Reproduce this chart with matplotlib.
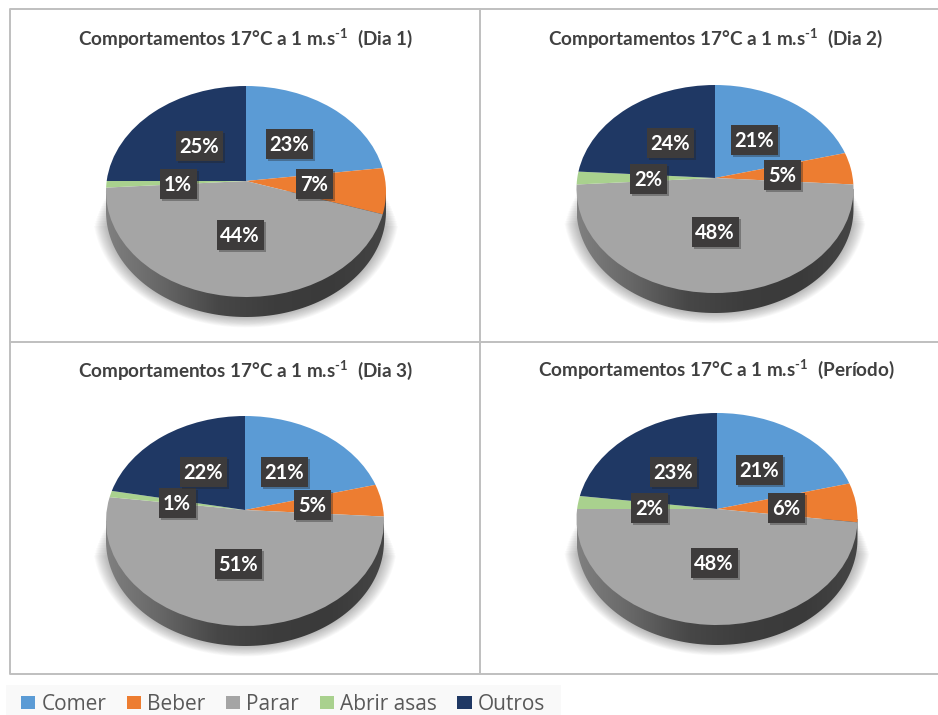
import numpy as np
import matplotlib
matplotlib.use("Agg")
import matplotlib.pyplot as plt
from matplotlib.colors import LinearSegmentedColormap
from matplotlib.patches import Patch, Polygon, Rectangle
from matplotlib.transforms import Transform
import matplotlib.patheffects as pe

plt.rcParams['font.family'] = ['Lato', 'DejaVu Sans']
plt.rcParams['mathtext.fontset'] = 'custom'
plt.rcParams['mathtext.rm'] = 'Lato:bold'
plt.rcParams['mathtext.default'] = 'rm'

# dados
categorias = ['Comer', 'Beber', 'Parar', 'Abrir asas', 'Outros']
dia1 = [23, 7, 44, 1, 25]
dia2 = [21, 5, 48, 2, 24]
dia3 = [21, 5, 51, 1, 22]
periodo = [21, 6, 48, 2, 23]
sufixos = ['(Dia 1)', '(Dia 2)', '(Dia 3)', '(Período)']
cores = ['#5b9bd5', '#ed7d31', '#a5a5a5', '#a9d18e', '#1f3864']

# layout em pixels: apice x, apice y, topo, base, raio x
geometria = [(246, 181, 86, 297, 140),
             (715, 178, 85, 293, 138.5),
             (245, 510, 416, 626, 139),
             (717, 509, 413, 625, 140.5)]
titulo_pos = [(246, 38), (716, 38), (246, 370), (716, 369)]
profundidade = 20
# centro das caixas de rotulo, na ordem das categorias
rotulo_pos = [[(289, 144), (314, 184), (240, 235), (178, 184), (199, 146)],
              [(754, 140), (782, 175), (715, 232), (648, 179), (670, 143)],
              [(284, 472), (312, 505), (238, 564), (177, 503), (203, 472)],
              [(759, 470), (786, 508), (714, 563), (649, 508), (673, 472)]]


class Perspectiva(Transform):
    # leva o circulo unitario da pizza para a elipse em perspectiva
    input_dims = output_dims = 2

    def __init__(self, cx, cy, topo, base, rx):
        super().__init__()
        up, dn = cy - topo, base - cy
        self.c = (dn - up) / (dn + up)
        self.k = up * (1 + self.c)
        ry = (base - topo) / 2
        off = (topo + base) / 2 - cy
        self.m = rx * np.sqrt(1 - (off / ry) ** 2)
        self.cx, self.cy = cx, cy

    def transform_non_affine(self, xy):
        xy = np.asarray(xy, float)
        w = 1 + self.c * xy[:, 1]
        return np.column_stack([self.cx + self.m * xy[:, 0] / w,
                                self.cy - self.k * xy[:, 1] / w])


fig = plt.figure(figsize=(9.38, 7.15), dpi=100)
ax = fig.add_axes([0, 0, 1, 1])

parede = LinearSegmentedColormap.from_list(
    'parede', ['#808080', '#666666', '#474747', '#3d3d3d', '#3a3a3a', '#454545'])

for dados, suf, geo, tpos, rpos in zip([dia1, dia2, dia3, periodo], sufixos,
                                       geometria, titulo_pos, rotulo_pos):
    cx, cy, topo, base, rx = geo
    ry = (base - topo) / 2
    ey = (topo + base) / 2

    # sombra: camadas de elipses, a mais larga primeiro
    t = np.linspace(0, 2 * np.pi, 200)
    for e in np.arange(13, 0, -1):
        yy = ey + profundidade + (ry + e * 0.8) * np.sin(t)
        xx = cx + (rx + e) * np.cos(t)
        yy = np.maximum(yy, ey + 2 + e * 2.5)
        ax.fill(xx, yy, color='#555555', alpha=0.035, lw=0, zorder=1)

    # parede lateral
    t = np.linspace(0, np.pi, 120)
    contorno = np.column_stack([cx + rx * np.cos(t),
                                ey + profundidade + ry * np.sin(t)])
    contorno = np.vstack([contorno, [cx - rx, ey], [cx + rx, ey]])
    lado = Polygon(contorno, closed=True, facecolor='none', edgecolor='none')
    ax.add_patch(lado)
    grad = ax.imshow(np.linspace(0, 1, 256)[None, :], cmap=parede,
                     extent=(cx - rx, cx + rx, base + profundidade, ey),
                     aspect='auto', zorder=2)
    grad.set_clip_path(lado)

    # fatias
    fatias, _ = ax.pie(dados, colors=cores, startangle=90, counterclock=False,
                       wedgeprops={'linewidth': 0})
    persp = Perspectiva(cx, cy, topo, base, rx)
    for f in fatias:
        f.set_transform(persp + ax.transData)
        f.set_zorder(3)

    ax.text(tpos[0], tpos[1],
            'Comportamentos 17°C a 1 m.s$^{\\text{-}1}$  ' + suf,
            ha='center', va='center', fontsize=13.6, fontweight='bold',
            color='#404040', zorder=6)

    # rotulos
    for v, (x, y) in zip(dados, rpos):
        larg = 47 if v >= 10 else 37
        caixa = Rectangle((x - larg / 2, y - 15), larg, 30, facecolor='#3d3b3b',
                          edgecolor='none', zorder=4)
        caixa.set_path_effects([pe.SimplePatchShadow(offset=(1.5, -1.5),
                                                     shadow_rgbFace='#222222',
                                                     alpha=0.35),
                                pe.Normal()])
        ax.add_patch(caixa)
        ax.text(x, y + 1, f'{v}%', color='white', fontsize=14.5, fontweight='bold',
                ha='center', va='center', zorder=5)

# grade dos paineis
cor_linha = '#bfbfbf'
ax.plot([938, 10, 10, 938], [9, 9, 674, 674], color=cor_linha, lw=1.4, zorder=0.5)
ax.plot([10, 938], [342, 342], color=cor_linha, lw=1.4, zorder=0.5)
ax.plot([480, 480], [9, 674], color=cor_linha, lw=1.4, zorder=0.5)

# fundo da legenda
ax.add_patch(Rectangle((6, 685), 555, 30, facecolor='#f9f9f9', edgecolor='none', zorder=0.5))

ax.set_aspect('auto')
ax.set_xlim(0, 938)
ax.set_ylim(715, 0)
ax.axis('off')

# legenda
alcas = [Patch(facecolor=c, edgecolor='none', label=n)
         for c, n in zip(cores, categorias)]
leg = fig.legend(handles=alcas, loc='lower left', bbox_to_anchor=(14 / 938, -0.0095),
                 ncol=5, frameon=False, prop={'family': 'Open Sans', 'size': 15},
                 handlelength=0.68, handleheight=0.6, handletextpad=0.3,
                 columnspacing=0.98, borderaxespad=0, borderpad=0.35,
                 labelcolor='#595959')

fig.savefig('out.png', dpi=100, facecolor='white')
